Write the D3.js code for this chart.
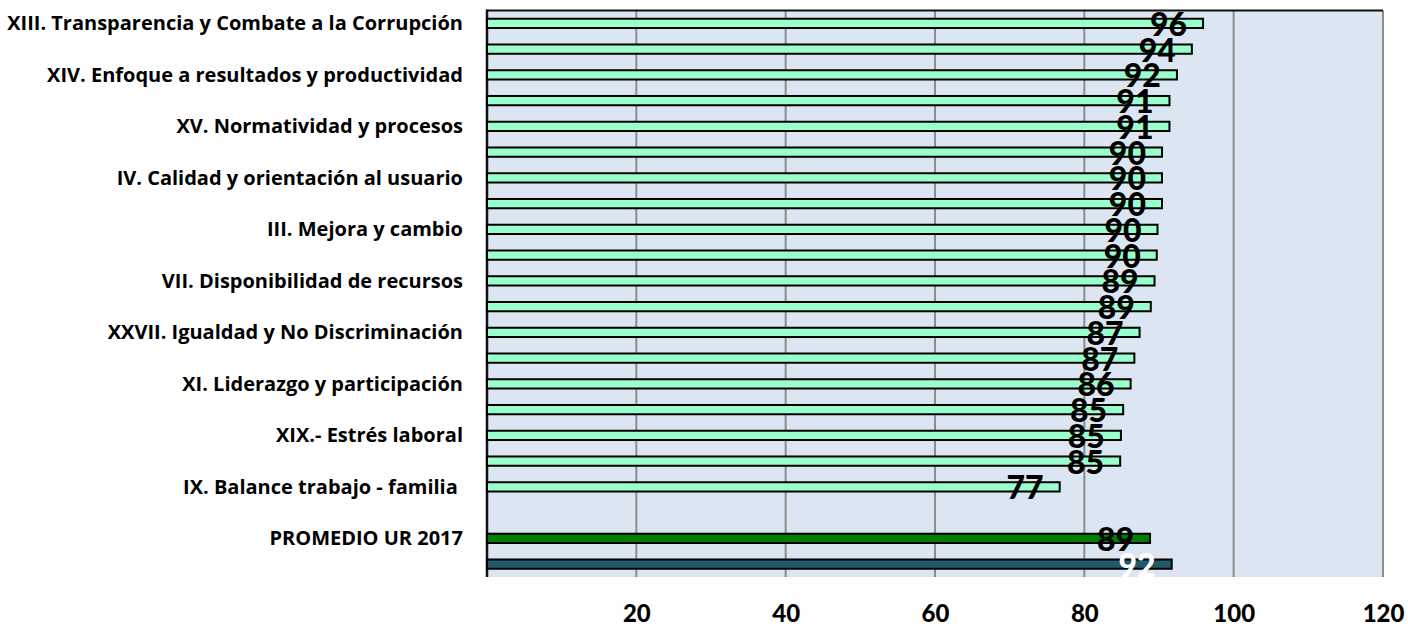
<!DOCTYPE html>
<html>
<head>
<meta charset="utf-8">
<script src="https://cdn.jsdelivr.net/npm/d3@7"></script>
<style>
  html, body { margin: 0; padding: 0; background: #ffffff; }
  svg { display: block; }
  text { white-space: pre; }
</style>
</head>
<body>
<svg id="chart" width="1408" height="628"></svg>
<script>
// Factor labels (only every other row carries a visible name)
const categories = [
  "XIII. Transparencia y Combate a la Corrupción", "",
  "XIV. Enfoque a resultados y productividad", "",
  "XV. Normatividad y procesos", "",
  "IV. Calidad y orientación al usuario", "",
  "III. Mejora y cambio", "",
  "VII. Disponibilidad de recursos", "",
  "XXVII. Igualdad y No Discriminación", "",
  "XI. Liderazgo y participación", "",
  "XIX.- Estrés laboral", "",
  "IX. Balance trabajo - familia ", "",
  "PROMEDIO UR 2017", ""
];

// Scores per row (null = spacer row)
const values = [
  95.9, 94.4, 92.4, 91.4, 91.4, 90.4, 90.4, 90.4, 89.8, 89.7,
  89.4, 88.9, 87.4, 86.7, 86.2, 85.2, 84.9, 84.8, 76.7, null,
  88.8, 91.7
];

// Bar kind per row: factor, average, overall
const kinds = [
  "f","f","f","f","f","f","f","f","f","f",
  "f","f","f","f","f","f","f","f","f","none",
  "avg","total"
];

const xTicks = [20, 40, 60, 80, 100, 120];

const fillByKind = { f: "#99ffcc", avg: "#008000", total: "#215968" };
const labelColorByKind = { f: "#000000", avg: "#000000", total: "#ffffff" };

const svg = d3.select("#chart");
const plotLeft = 487, plotRight = 1383, plotTop = 10.5, plotBottom = 577;

const x = d3.scaleLinear().domain([0, 120]).range([plotLeft, plotRight]);
const y = d3.scaleBand()
  .domain(d3.range(categories.length))
  .range([plotTop, plotBottom])
  .paddingInner(0.64)
  .paddingOuter(0.32);

// plot background
svg.append("rect")
  .attr("x", plotLeft).attr("y", plotTop)
  .attr("width", plotRight - plotLeft).attr("height", plotBottom - plotTop)
  .attr("fill", "#dce6f2");

// vertical gridlines
svg.append("g")
  .selectAll("line")
  .data(xTicks)
  .join("line")
  .attr("x1", d => x(d)).attr("x2", d => x(d))
  .attr("y1", plotTop).attr("y2", plotBottom)
  .attr("stroke", "#8c8c8c")
  .attr("stroke-width", 2);

// top border and category axis line
svg.append("line")
  .attr("x1", plotLeft).attr("x2", plotRight)
  .attr("y1", plotTop).attr("y2", plotTop)
  .attr("stroke", "#111").attr("stroke-width", 2);
svg.append("line")
  .attr("x1", plotLeft).attr("x2", plotLeft)
  .attr("y1", plotTop - 1).attr("y2", plotBottom)
  .attr("stroke", "#111").attr("stroke-width", 2.5);

const rows = values.map((v, i) => ({ i, v, kind: kinds[i], label: categories[i] }));
const barRows = rows.filter(d => d.v !== null);

// bars
svg.append("g")
  .selectAll("rect")
  .data(barRows)
  .join("rect")
  .attr("x", x(0))
  .attr("y", d => y(d.i))
  .attr("width", d => x(d.v) - x(0))
  .attr("height", y.bandwidth())
  .attr("fill", d => fillByKind[d.kind])
  .attr("stroke", "#000")
  .attr("stroke-width", 2);

// value labels
svg.append("g")
  .selectAll("text")
  .data(barRows)
  .join("text")
  .attr("x", d => x(d.v) - 16)
  .attr("y", d => y(d.i) + y.bandwidth() / 2 + 12.5)
  .attr("text-anchor", "end")
  .attr("font-family", "Lato, 'DejaVu Sans', sans-serif")
  .attr("font-weight", 900)
  .attr("font-size", 32)
  .attr("fill", d => labelColorByKind[d.kind])
  .text(d => d3.format(".0f")(d.v));

// category labels
svg.append("g")
  .selectAll("text")
  .data(rows.filter(d => d.label))
  .join("text")
  .attr("x", 463)
  .attr("y", d => y(d.i) + y.bandwidth() / 2 + 7)
  .attr("text-anchor", "end")
  .attr("font-family", "'Open Sans', Lato, sans-serif")
  .attr("font-weight", "bold")
  .attr("font-size", 20)
  .attr("fill", "#000")
  .text(d => d.label);

// value axis labels
const xAxis = d3.axisBottom(x).tickValues(xTicks).tickSize(0).tickPadding(0);
const gx = svg.append("g").attr("transform", `translate(0, ${plotBottom})`).call(xAxis);
gx.select(".domain").remove();
gx.selectAll("text")
  .attr("y", 45)
  .attr("dy", null)
  .attr("font-family", "Lato, sans-serif")
  .attr("font-weight", 900)
  .attr("font-size", 24)
  .attr("fill", "#000");
</script>
</body>
</html>
